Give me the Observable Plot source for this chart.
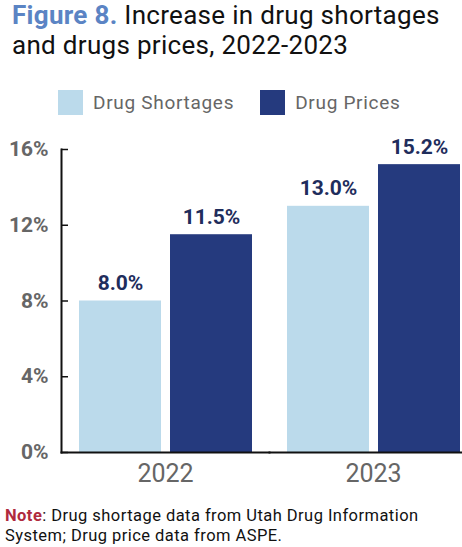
<!DOCTYPE html>
<html>
<head>
<meta charset="utf-8">
<script src="https://cdn.jsdelivr.net/npm/d3@7"></script>
<script src="https://cdn.jsdelivr.net/npm/@observablehq/plot@0.6"></script>
<style>
  html, body { margin: 0; padding: 0; background: #fff; }
  body { width: 462px; height: 547px; overflow: hidden; font-family: Roboto, "Liberation Sans", sans-serif; }
  .title { position: absolute; left: 12px; top: 1px; font-size: 26px; line-height: 29.5px; color: #111; letter-spacing: 0.3px; white-space: nowrap; }
  .title b { color: #5b84c4; }
  .legend { position: absolute; left: 58px; top: 90px; display: flex; align-items: center; font-size: 19px; color: #666; }
  .sw { width: 25px; height: 25px; display: inline-block; margin-right: 10px; }
  .item { display: flex; align-items: center; margin-right: 26px; letter-spacing: 0.7px; }
  #chart { position: absolute; left: 0; top: 126px; }
  .note { position: absolute; left: 5px; top: 506px; font-size: 16.5px; line-height: 20px; color: #111; letter-spacing: 0.45px; white-space: nowrap; }
  .note b { color: #b02a3e; }
</style>
</head>
<body>
<div class="title"><b>Figure 8.</b> Increase in drug shortages<br>and drugs prices, 2022-2023</div>
<div class="legend" id="legend"></div>
<div id="chart"></div>
<div class="note"><b>Note</b>: Drug shortage data from Utah Drug Information<br>System; Drug price data from ASPE.</div>
<script>
const years = ["2022", "2023"];
const seriesNames = ["Drug Shortages", "Drug Prices"];
const shortages = [8.0, 13.0];
const prices = [11.5, 15.2];
const yTicks = [0, 4, 8, 12, 16];
const colors = ["#bbdaeb", "#253a7e"];

const data = years.flatMap((year, i) => [
  {year, series: seriesNames[0], value: shortages[i]},
  {year, series: seriesNames[1], value: prices[i]}
]);

const legend = document.getElementById("legend");
seriesNames.forEach((s, i) => {
  const it = document.createElement("div");
  it.className = "item";
  it.innerHTML = `<span class="sw" style="background:${colors[i]}"></span>${s}`;
  legend.appendChild(it);
});

const chart = Plot.plot({
  width: 462,
  height: 370,
  marginLeft: 61,
  marginRight: 0,
  marginTop: 23,
  marginBottom: 44,
  style: {fontFamily: "Roboto, 'Liberation Sans', sans-serif", background: "transparent"},
  fx: {domain: years, range: [61, 477], paddingInner: 0, paddingOuter: 0, label: null},
  x: {domain: seriesNames, paddingInner: 9 / 91, paddingOuter: 17.5 / 91, axis: null},
  y: {domain: [0, 16], label: null},
  color: {domain: seriesNames, range: colors},
  marks: [
    Plot.barY(data, {fx: "year", x: "series", y: "value", fill: "series"}),
    Plot.text(data, {
      fx: "year", x: "series", y: "value",
      text: d => d.value.toFixed(1) + "%",
      lineAnchor: "bottom", dy: -11,
      fill: "#1f2d5c", fontSize: 21, fontWeight: "bold", letterSpacing: "-0.5px"
    }),
    Plot.axisY({
      ticks: yTicks, tickFormat: d => d + "%", tickSize: -7, tickPadding: 20,
      fill: "#666", stroke: "#111", strokeWidth: 1.5, fontSize: 21, fontWeight: "bold", label: null
    }),
    Plot.axisFx({anchor: "bottom", tickSize: 0, tickPadding: 12, fontSize: 25, fill: "#666", label: null}),
    Plot.frame({anchor: "left", facetAnchor: "left", stroke: "#111", strokeWidth: 2}),
    Plot.frame({anchor: "bottom", stroke: "#111", strokeWidth: 2})
  ]
});
document.getElementById("chart").appendChild(chart);
</script>
</body>
</html>
